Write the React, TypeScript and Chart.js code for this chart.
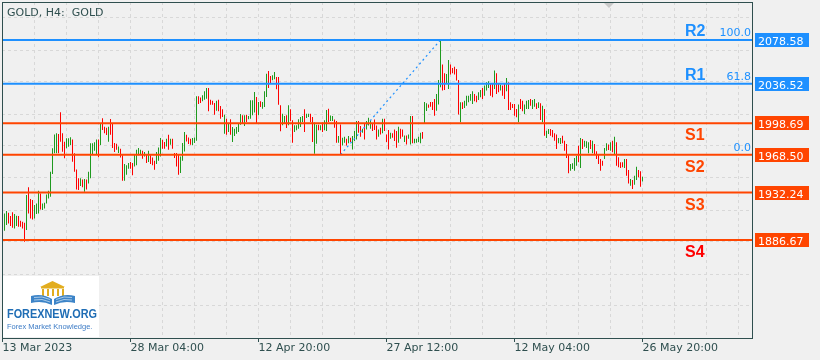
import React, { useEffect, useRef } from "react";
import { Chart, registerables } from "chart.js";

Chart.register(...registerables);

// ---------------- data ----------------
const chartTitle = "GOLD, H4:  GOLD";

// H4 bar highs (bars 0..319)
const highs: number[] = [
  // 0-52
  1912.2, 1914.4, 1912.8, 1909.6, 1913.2, 1911.6, 1910.0, 1909.6, 1905.2, 1904.2,
  1903.2, 1929.8, 1937.2, 1926.0, 1925.0, 1920.2, 1921.8, 1934.0, 1931.4, 1921.8,
  1922.4, 1930.4, 1934.0, 1952.2, 1974.6, 1988.0, 1989.0, 1988.4, 2009.2, 1989.0,
  1981.0, 1984.2, 1984.2, 1985.2, 1983.2, 1969.8, 1954.4, 1945.8, 1945.8, 1944.8,
  1945.2, 1944.8, 1952.2, 1979.4, 1979.4, 1980.4, 1983.2, 1983.2, 1998.6, 2003.4,
  1995.4, 1994.4, 1995.4,
  // 53-106
  2002.7, 1998.9, 1979.7, 1979.1, 1976.5, 1974.3, 1967.9, 1959.5, 1958.3, 1960.5,
  1961.5, 1960.5, 1969.1, 1973.3, 1974.9, 1973.3, 1972.3, 1971.1, 1969.1, 1972.3,
  1967.9, 1965.9, 1962.7, 1971.1, 1975.5, 1984.5, 1982.9, 1980.7, 1983.9, 1987.7,
  1983.9, 1983.9, 1970.1, 1970.1, 1969.1, 1966.9, 1979.7, 1990.3, 1987.7, 1985.1,
  1983.9, 1984.5, 1985.1, 2024.5, 2024.5, 2023.5, 2025.5, 2029.3, 2032.5, 2032.5,
  2021.3, 2020.3, 2018.1, 2020.3,
  // 107-160
  2021.3, 2015.3, 2012.1, 2006.9, 2003.1, 1998.3, 2002.5, 1995.1, 1993.5, 1995.1,
  1998.3, 2007.6, 2006.3, 2006.3, 2006.9, 2005.7, 2020.7, 2020.7, 2028.7, 2023.9,
  2019.1, 2019.7, 2019.1, 2029.3, 2046.3, 2048.9, 2044.1, 2044.7, 2047.9, 2043.1,
  2043.1, 2015.9, 2007.9, 2005.7, 2006.3, 2015.9, 2012.1, 2001.5, 1996.7, 1996.7,
  2002.5, 2004.7, 2005.7, 2012.1, 2007.9, 2007.9, 2007.9, 2004.7, 1999.3, 1997.3,
  1997.3, 1996.7, 1999.3, 2001.5,
  // 161-214
  2011.4, 2012.6, 2006.2, 2005.6, 2002.4, 2000.8, 1986.4, 1997.6, 1984.8, 1985.8,
  1983.8, 1986.4, 1984.8, 1986.4, 1991.2, 2000.8, 2000.8, 1996.0, 1993.4, 1998.6,
  2000.8, 2004.0, 2001.8, 1998.6, 2002.4, 1996.6, 1992.8, 1994.4, 2003.0, 2003.0,
  1988.0, 1992.2, 1989.6, 1989.0, 1992.8, 1991.2, 1995.4, 1993.4, 1992.8, 1987.0,
  1987.0, 1988.0, 2005.6, 2005.6, 1983.8, 1983.8, 1985.8, 1989.6, 1990.2, 2019.0,
  2017.8, 2016.8, 2019.0, 2019.0,
  // 215-268
  2022.0, 2026.8, 2040.2, 2078.58, 2055.0, 2046.6, 2046.0, 2059.4, 2055.0, 2051.8,
  2053.0, 2050.8, 2040.2, 2018.8, 2018.8, 2020.4, 2025.2, 2025.2, 2026.8, 2029.4,
  2026.8, 2025.2, 2028.4, 2030.6, 2032.6, 2034.8, 2038.0, 2039.0, 2036.4, 2037.0,
  2049.2, 2046.6, 2036.4, 2035.8, 2034.8, 2037.0, 2042.2, 2038.0, 2018.8, 2017.2,
  2017.2, 2012.4, 2016.6, 2022.0, 2020.4, 2016.6, 2020.4, 2021.0, 2022.0, 2021.0,
  2022.0, 2017.8, 2018.8, 2017.8,
  // 269-319
  2015.6, 2012.4, 1991.6, 1993.2, 1993.2, 1992.2, 1989.0, 1987.8, 1984.6, 1984.6,
  1986.8, 1982.0, 1978.8, 1969.2, 1959.6, 1960.2, 1965.4, 1967.6, 1977.2, 1984.6,
  1983.6, 1982.0, 1981.4, 1980.4, 1982.6, 1982.0, 1978.8, 1971.8, 1969.2, 1964.4,
  1962.8, 1975.0, 1979.4, 1978.2, 1980.4, 1982.0, 1985.8, 1980.4, 1966.0, 1961.2,
  1961.2, 1964.4, 1964.4, 1953.8, 1945.2, 1944.2, 1948.4, 1957.0, 1953.8, 1952.6,
  1947.4,
];

// H4 bar lows (bars 0..319)
const lows: number[] = [
  // 0-52
  1895.6, 1901.0, 1902.6, 1900.0, 1898.4, 1897.8, 1900.0, 1899.4, 1899.4, 1897.8,
  1885.0, 1896.2, 1912.2, 1907.4, 1906.4, 1907.4, 1911.6, 1912.2, 1916.0, 1915.4,
  1917.0, 1921.8, 1926.6, 1928.2, 1950.0, 1969.8, 1969.8, 1969.8, 1981.0, 1971.4,
  1965.0, 1974.6, 1976.2, 1977.8, 1961.8, 1952.2, 1935.2, 1934.6, 1938.4, 1937.2,
  1933.0, 1935.2, 1941.0, 1945.8, 1968.2, 1972.4, 1968.2, 1966.0, 1977.8, 1992.2,
  1989.0, 1987.4, 1981.0,
  // 53-106
  1987.7, 1974.9, 1971.1, 1973.3, 1970.1, 1965.9, 1943.5, 1943.5, 1949.3, 1955.1,
  1955.1, 1948.7, 1957.3, 1958.3, 1967.9, 1969.1, 1964.7, 1966.9, 1960.5, 1961.5,
  1959.5, 1958.3, 1954.1, 1959.5, 1962.7, 1966.9, 1974.3, 1974.3, 1976.5, 1973.3,
  1978.1, 1974.3, 1965.3, 1957.3, 1949.3, 1950.9, 1962.7, 1971.7, 1981.3, 1978.7,
  1978.1, 1977.5, 1979.7, 1981.9, 2017.1, 2018.1, 2019.7, 2021.3, 2022.3, 2010.1,
  2016.5, 2016.5, 2006.9, 2010.7,
  // 107-160
  2010.1, 2003.1, 2004.7, 1988.7, 1987.7, 1990.3, 1987.7, 1980.7, 1986.5, 1988.7,
  1990.3, 1997.3, 1998.3, 1996.1, 1999.9, 2002.5, 2003.1, 2006.3, 2008.9, 1999.0,
  2006.3, 2014.3, 2012.7, 2014.3, 2023.9, 2032.5, 2036.7, 2039.9, 2040.9, 2031.3,
  2016.5, 1990.9, 1996.7, 1998.3, 1994.1, 1996.7, 2000.5, 1980.1, 1990.3, 1991.9,
  1993.5, 1995.1, 1999.9, 1990.3, 2003.7, 2004.7, 1999.9, 1980.7, 1969.5, 1979.1,
  1991.9, 1991.9, 1990.3, 1991.9,
  // 161-214
  1991.2, 1999.8, 2000.8, 2000.8, 1994.4, 1980.0, 1980.0, 1968.5, 1977.4, 1980.0,
  1977.4, 1979.4, 1980.6, 1973.6, 1981.6, 1983.2, 1989.6, 1985.8, 1989.6, 1983.2,
  1992.8, 1996.6, 1993.4, 1991.2, 1992.2, 1983.2, 1985.8, 1988.0, 1989.0, 1991.2,
  1980.6, 1973.6, 1983.8, 1984.8, 1981.6, 1975.2, 1980.0, 1983.8, 1985.8, 1980.6,
  1978.4, 1983.8, 1978.4, 1979.4, 1979.4, 1980.0, 1980.6, 1979.4, 1983.8, 1998.6,
  2010.4, 2013.6, 2014.6, 2011.4,
  // 215-268
  2006.0, 2010.8, 2016.6, 2033.2, 2030.0, 2030.6, 2036.4, 2031.6, 2045.4, 2046.6,
  2045.4, 2039.6, 2007.0, 1999.6, 2012.4, 2013.4, 2015.6, 2018.8, 2020.4, 2017.2,
  2019.8, 2018.8, 2021.0, 2023.6, 2022.0, 2025.2, 2030.0, 2032.6, 2025.2, 2023.6,
  2031.6, 2026.8, 2028.4, 2030.0, 2025.2, 2022.0, 2029.4, 2011.4, 2011.4, 2013.4,
  2006.0, 2004.4, 1999.6, 2012.4, 2010.2, 2007.6, 2012.4, 2012.4, 2015.6, 2012.4,
  2014.6, 2012.4, 2013.4, 2001.8,
  // 269-319
  1999.6, 1986.8, 1984.6, 1988.4, 1986.8, 1985.2, 1982.0, 1974.0, 1979.4, 1978.8,
  1979.4, 1972.4, 1965.4, 1950.6, 1953.2, 1954.8, 1953.2, 1958.0, 1961.2, 1955.8,
  1974.0, 1976.2, 1975.0, 1969.8, 1974.0, 1969.8, 1968.6, 1964.4, 1959.6, 1953.2,
  1958.0, 1964.4, 1972.4, 1973.0, 1972.4, 1970.8, 1968.6, 1958.0, 1956.4, 1955.8,
  1956.4, 1955.8, 1948.4, 1941.0, 1938.8, 1935.6, 1939.8, 1944.2, 1946.8, 1937.8,
  1942.9,
];

// bar direction: G = rising bar, R = falling bar
const directions = [
  "GGRRRGGRRRR GRRRGGGRGGGGGGGG RRRR GGG RRRR GRGR GGGGG RG RRR G",
  "RRRR G RR GGG RR GGGG R G R G RRR GGG RR G R G RRRR GGG RRR GGG RR GGG RRRR G",
  "RRR G R G R GGGGG R G R GGGG R G R GGG RR GG RRR GG R G RR GGGGG R GG RR GG R G R G",
  "G R GG RR G R GG R G R GGG RR G R GGG RRR G R G RRR G RRR G RR G R GG R GGGG R GG RRR",
  "R GGG RR GG RRRRR G R GGGGG RR GG R GGG RR G RR G RR G RRRRR G RR GGG R GG R G R",
  "G R GG RRRR GG RRRR GGGG R G R GGG R G RRRRR GG R G R G RRRR G RR G R GG RR G",
]
  .join("")
  .replace(/ /g, "");

const timeLabels = ["13 Mar 2023", "28 Mar 04:00", "12 Apr 20:00", "27 Apr 12:00", "12 May 04:00", "26 May 20:00"];
const timeLabelBars = [-1, 63, 127, 191, 255, 319];

const levelNames = ["R2", "R1", "S1", "S2", "S3", "S4"];
const levelPrices = [2078.58, 2036.52, 1998.69, 1968.5, 1932.24, 1886.67];

const fibLabels = ["100.0", "61.8", "0.0"];
const fibPrices = [2078.58, 2036.52, 1968.5];
const fibStartBar = 168;
const fibEndBar = 218;

const gridPrices = [2099.69, 2068.98, 2038.28, 2007.57, 1976.87, 1946.16, 1915.45, 1884.75, 1854.04, 1823.34];

const logoTitle = "FOREXNEW.ORG";
const logoTagline = "Forex Market Knowledge.";

// ---------------- styles ----------------
const BG = "#f0f0f0";
const FRAME = "#2f4f4f";
const TEXT = "#2f4f4f";
const GRID = "#d8d8d8";
const UP = "#1f9a1f";
const DOWN = "#ff0000";
const BLUE = "#1e90ff";
const ORANGE = "#ff4500";
const levelLineColors = [BLUE, BLUE, ORANGE, ORANGE, ORANGE, ORANGE];
const levelNameColors = [BLUE, BLUE, ORANGE, ORANGE, ORANGE, "#ff0000"];

const X_MIN = -1.25;
const X_MAX = 373.75;
const Y_MIN = 1792.63;
const Y_MAX = 2115.04;
const FONT = "'DejaVu Sans', sans-serif";

const decorPlugin = {
  id: "mtDecor",
  beforeDraw(chart: any) {
    const ctx = chart.ctx;
    ctx.save();
    ctx.fillStyle = BG;
    ctx.fillRect(0, 0, chart.width, chart.height);
    ctx.restore();
  },
  afterDraw(chart: any) {
    const ctx = chart.ctx;
    const { left, top, right, bottom } = chart.chartArea;
    const ys = chart.scales.y;
    ctx.save();

    // logo box
    ctx.fillStyle = "#ffffff";
    ctx.fillRect(3, 276, 96, 61);
    // building
    ctx.fillStyle = "#e2ad1f";
    ctx.beginPath();
    ctx.moveTo(40, 287);
    ctx.lineTo(65, 287);
    ctx.lineTo(52.5, 281);
    ctx.closePath();
    ctx.fill();
    ctx.fillRect(41, 287, 23, 1.5);
    [42, 47, 52, 57, 62].forEach((cx) => ctx.fillRect(cx, 289, 2, 7));
    // book
    ctx.fillStyle = "#3c84c8";
    ctx.beginPath();
    ctx.moveTo(52, 299);
    ctx.quadraticCurveTo(42, 293, 31, 296);
    ctx.lineTo(31, 303);
    ctx.quadraticCurveTo(42, 300, 52, 305);
    ctx.closePath();
    ctx.fill();
    ctx.beginPath();
    ctx.moveTo(54, 299);
    ctx.quadraticCurveTo(64, 293, 75, 296);
    ctx.lineTo(75, 303);
    ctx.quadraticCurveTo(64, 300, 54, 305);
    ctx.closePath();
    ctx.fill();
    ctx.strokeStyle = "rgba(255,255,255,0.7)";
    ctx.lineWidth = 0.8;
    [297.5, 300].forEach((yy) => {
      ctx.beginPath();
      ctx.moveTo(34, yy);
      ctx.quadraticCurveTo(42, yy - 2, 50, yy + 2);
      ctx.moveTo(56, yy + 2);
      ctx.quadraticCurveTo(64, yy - 2, 72, yy);
      ctx.stroke();
    });
    ctx.textAlign = "left";
    ctx.textBaseline = "alphabetic";
    ctx.fillStyle = "#1f6db5";
    ctx.font = "bold 12px 'Liberation Sans', sans-serif";
    ctx.fillText(logoTitle, 7, 317.5, 90);
    ctx.fillStyle = "#3d7cc6";
    ctx.font = "7.5px 'Liberation Sans', sans-serif";
    ctx.fillText(logoTagline, 7, 329, 89);

    // frame
    ctx.strokeStyle = FRAME;
    ctx.lineWidth = 1;
    ctx.strokeRect(left + 0.5, top + 0.5, right - left, bottom - top);

    // chart-shift marker
    ctx.fillStyle = "#c8c8c8";
    ctx.beginPath();
    ctx.moveTo(604, 3);
    ctx.lineTo(614, 3);
    ctx.lineTo(609, 8);
    ctx.closePath();
    ctx.fill();

    // title
    ctx.fillStyle = TEXT;
    ctx.font = `11px ${FONT}`;
    ctx.fillText(chartTitle, 7, 16);

    // level names
    ctx.font = "bold 16px 'Liberation Sans', sans-serif";
    levelNames.forEach((name, k) => {
      const py = ys.getPixelForValue(levelPrices[k]);
      ctx.fillStyle = levelNameColors[k];
      ctx.fillText(name, 685, py + (name[0] === "R" ? -4 : 17));
    });

    // fibo labels
    ctx.font = `11px ${FONT}`;
    ctx.textAlign = "right";
    ctx.fillStyle = BLUE;
    fibLabels.forEach((lab, k) => {
      const py = ys.getPixelForValue(fibPrices[k]);
      ctx.fillText(lab, 751, py - 4);
    });

    // price boxes
    ctx.textAlign = "left";
    levelPrices.forEach((p, k) => {
      const py = Math.round(ys.getPixelForValue(p));
      ctx.fillStyle = levelLineColors[k];
      ctx.fillRect(755, py - 7, 54, 14);
      ctx.fillStyle = "#ffffff";
      ctx.fillText(p.toFixed(2), 758, py + 4.5);
    });

    ctx.restore();
  },
};

export default function App() {
  const canvasRef = useRef<HTMLCanvasElement | null>(null);

  useEffect(() => {
    document.body.style.margin = "0";
    document.body.style.background = BG;
    const canvas = canvasRef.current;
    if (!canvas) return;

    const barData = highs.map((h, i) => ({ x: i, y: [lows[i], h] }));
    const barColors = highs.map((_, i) => (directions[i] === "G" ? UP : DOWN));

    const levelDatasets = levelPrices.map((p, k) => ({
      type: "line" as const,
      data: [
        { x: X_MIN, y: p },
        { x: X_MAX, y: p },
      ],
      borderColor: levelLineColors[k],
      borderWidth: 2,
      pointRadius: 0,
      fill: false,
      order: 0,
    }));

    const fibDataset = {
      type: "line" as const,
      data: [
        { x: fibStartBar, y: fibPrices[2] },
        { x: fibEndBar, y: fibPrices[0] },
      ],
      borderColor: BLUE,
      borderWidth: 1.2,
      borderDash: [2, 3],
      pointRadius: 0,
      fill: false,
      order: 1,
    };

    const chart = new Chart(canvas, {
      type: "bar",
      data: {
        datasets: [
          ...levelDatasets,
          fibDataset,
          {
            type: "bar" as const,
            data: barData,
            backgroundColor: barColors,
            borderWidth: 0,
            barThickness: 1,
            inflateAmount: 0,
            order: 2,
          } as any,
        ],
      },
      options: {
        animation: false,
        responsive: false,
        devicePixelRatio: 1,
        events: [],
        layout: { padding: { left: 2, top: 2, right: 0, bottom: 0 } },
        plugins: { legend: { display: false }, tooltip: { enabled: false } },
        scales: {
          x: {
            type: "linear",
            position: "bottom",
            min: X_MIN,
            max: X_MAX,
            offset: false,
            afterBuildTicks: (scale: any) => {
              const t = [];
              for (let v = -1; v <= X_MAX; v += 16) t.push({ value: v });
              scale.ticks = t;
            },
            afterFit: (scale: any) => {
              scale.height = 22;
            },
            grid: {
              offset: false,
              color: GRID,
              lineWidth: 1,
              drawTicks: true,
              tickLength: 4,
              tickColor: (c: any) => (c.tick && timeLabelBars.includes(c.tick.value) ? FRAME : "rgba(0,0,0,0)"),
            },
            border: { display: false, dash: [3, 3] },
            ticks: {
              autoSkip: false,
              maxRotation: 0,
              minRotation: 0,
              align: "start",
              padding: 0,
              color: TEXT,
              font: { family: "'DejaVu Sans', sans-serif", size: 11 },
              callback: (v: any) => {
                const k = timeLabelBars.indexOf(Number(v));
                return k >= 0 ? timeLabels[k] : "";
              },
            },
          },
          y: {
            type: "linear",
            position: "right",
            min: Y_MIN,
            max: Y_MAX,
            afterBuildTicks: (scale: any) => {
              scale.ticks = gridPrices.map((v) => ({ value: v }));
            },
            afterFit: (scale: any) => {
              scale.width = 68;
            },
            grid: { color: GRID, lineWidth: 1, drawTicks: false },
            border: { display: false, dash: [3, 3] },
            ticks: { display: false },
          },
        },
      } as any,
      plugins: [decorPlugin],
    });

    return () => chart.destroy();
  }, []);

  return (
    <div style={{ width: 820, height: 360, background: BG }}>
      <canvas ref={canvasRef} width={820} height={360} style={{ display: "block" }} />
    </div>
  );
}
